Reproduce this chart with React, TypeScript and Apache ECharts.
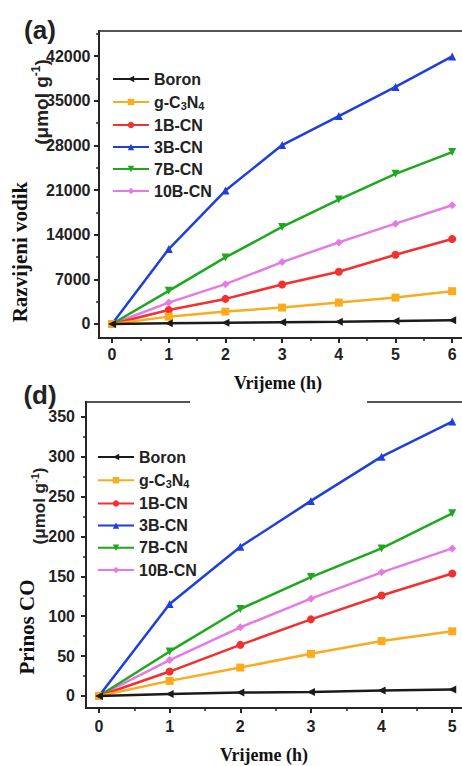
import { useEffect, useRef } from 'react';
import * as echarts from 'echarts';

// ---------- data ----------
const seriesNames = ['Boron', 'g-C3N4', '1B-CN', '3B-CN', '7B-CN', '10B-CN'];

// (a) hydrogen evolution, µmol g-1 vs hours
const h2Hours = [0, 1, 2, 3, 4, 5, 6];
const boronH2 = [0, 100, 180, 270, 350, 450, 580];
const gcnH2 = [0, 1150, 1940, 2570, 3350, 4140, 5140];
const b1H2 = [0, 2200, 3930, 6190, 8180, 10850, 13320];
const b3H2 = [0, 11750, 20920, 28050, 32600, 37170, 41950];
const b7H2 = [0, 5190, 10430, 15210, 19500, 23540, 26950];
const b10H2 = [0, 3350, 6240, 9700, 12790, 15730, 18610];

// (d) CO yield, µmol g-1 vs hours
const coHours = [0, 1, 2, 3, 4, 5];
const boronCO = [0, 2.5, 4.2, 5, 6.7, 8];
const gcnCO = [0, 18.9, 35.6, 52.8, 68.8, 81];
const b1CO = [0, 30.6, 64, 96, 126, 153.5];
const b3CO = [0, 115.3, 187, 244.5, 300, 344];
const b7CO = [0, 55.8, 109, 149, 185, 229];
const b10CO = [0, 45, 86, 122, 155, 185];

// tick labels
const h2YTicks = [0, 7000, 14000, 21000, 28000, 35000, 42000];
const h2YMinor = [3500, 10500, 17500, 24500, 31500, 38500, 45500];
const h2XTicks = [0, 1, 2, 3, 4, 5, 6];
const h2XMinor = [0.5, 1.5, 2.5, 3.5, 4.5, 5.5];
const coYTicks = [0, 50, 100, 150, 200, 250, 300, 350];
const coYMinor = [25, 75, 125, 175, 225, 275, 325];
const coXTicks = [0, 1, 2, 3, 4, 5];
const coXMinor = [0.5, 1.5, 2.5, 3.5, 4.5];

// ---------- styles ----------
const colors = ['#1b1b1b', '#fbab1e', '#f42f2f', '#1f3fdc', '#1ea81e', '#e57ae5'];
const symbols = ['triangle', 'rect', 'circle', 'triangle', 'triangle', 'diamond'];
const symbolRotates = [90, 0, 0, 0, 180, 0];
const SANS = '"Liberation Sans", Arial, sans-serif';
const SERIF = '"Liberation Serif", "Times New Roman", serif';
const AX = '#262626';

const h2Data = [boronH2, gcnH2, b1H2, b3H2, b7H2, b10H2];
const coData = [boronCO, gcnCO, b1CO, b3CO, b7CO, b10CO];

function mainAxis(gridIndex: number, min: number, max: number, ticks: number[], margin: number, position: string) {
  return {
    type: 'value', gridIndex, min, max, position,
    axisLine: { show: true, onZero: false, lineStyle: { color: AX, width: 2 } },
    axisTick: { show: true, length: 5, customValues: ticks, lineStyle: { color: AX, width: 2 } },
    axisLabel: {
      customValues: ticks, margin, fontSize: 16, fontWeight: 'bold', fontFamily: SANS, color: '#222',
      formatter: (v: number) => String(v),
    },
    splitLine: { show: false },
  };
}
function minorAxis(gridIndex: number, min: number, max: number, vals: number[], position: string) {
  return {
    type: 'value', gridIndex, min, max, position,
    axisLine: { show: false, onZero: false },
    axisTick: { show: true, length: 3, customValues: vals, lineStyle: { color: AX, width: 1.5 } },
    axisLabel: { show: false },
    splitLine: { show: false },
  };
}

function makeSeries(hours: number[], values: number[][], axisIndex: number) {
  return seriesNames.map((name, i) => ({
    type: 'line', name, xAxisIndex: axisIndex, yAxisIndex: axisIndex,
    data: hours.map((h, k) => [h, values[i][k]]),
    symbol: symbols[i], symbolRotate: symbolRotates[i], symbolSize: 8,
    lineStyle: { width: 2.5, color: colors[i] },
    itemStyle: { color: colors[i] },
    z: 3 + (5 - i),
  }));
}

const legendBase = {
  orient: 'vertical', itemWidth: 36, itemHeight: 8, data: seriesNames,
  formatter: (n: string) => (n === 'g-C3N4' ? 'g-C{s|3}N{s|4}' : n),
  textStyle: {
    fontSize: 16, fontWeight: 'bold', fontFamily: SANS, color: '#222', lineHeight: 14,
    rich: { s: { fontSize: 11, fontWeight: 'bold', fontFamily: SANS, color: '#222', lineHeight: 14, padding: [7, 0, 0, 0] } },
  },
};

const unitRich = (size: number) => ({
  u: { fontSize: size, fontWeight: 'bold', fontFamily: SANS, fill: '#222' },
  s: { fontSize: Math.round(size * 0.65), fontWeight: 'bold', fontFamily: SANS, fill: '#222', padding: [0, 0, Math.round(size * 0.5), 0] },
});

const option = {
  animation: false,
  backgroundColor: '#fff',
  grid: [
    { left: 99, top: 31, right: -10, bottom: 428, show: true, borderColor: '#555', borderWidth: 2, containLabel: false, outerBoundsMode: 'none' },
    { left: 86, top: 402, right: -10, bottom: 58, show: true, borderColor: '#555', borderWidth: 2, containLabel: false, outerBoundsMode: 'none' },
  ],
  xAxis: [
    mainAxis(0, -0.23, 6.35, h2XTicks, 8.5, 'bottom'),
    mainAxis(1, -0.184, 5.28, coXTicks, 10.5, 'bottom'),
    minorAxis(0, -0.23, 6.35, h2XMinor, 'bottom'),
    minorAxis(1, -0.184, 5.28, coXMinor, 'bottom'),
  ],
  yAxis: [
    mainAxis(0, -2200, 45930, h2YTicks, 8.5, 'left'),
    mainAxis(1, -15.1, 368.5, coYTicks, 11, 'left'),
    minorAxis(0, -2200, 45930, h2YMinor, 'left'),
    minorAxis(1, -15.1, 368.5, coYMinor, 'left'),
  ],
  legend: [
    { ...legendBase, left: 107, top: 66, itemGap: 6 },
    { ...legendBase, left: 92, top: 444, itemGap: 6.2 },
  ],
  series: [...makeSeries(h2Hours, h2Data, 0), ...makeSeries(coHours, coData, 1)],
  graphic: [
    { type: 'text', x: 40, y: 30, style: { text: '(a)', font: `bold 26px ${SANS}`, fill: '#222', align: 'center', verticalAlign: 'middle' } },
    { type: 'text', x: 40, y: 395, style: { text: '(d)', font: `bold 26px ${SANS}`, fill: '#222', align: 'center', verticalAlign: 'middle' } },
    // top axis titles
    { type: 'text', x: 41, y: 102, rotation: Math.PI / 2, style: { text: '{u|(μmol g}{s|-1}{u|)}', rich: unitRich(19), align: 'center', verticalAlign: 'middle' } },
    { type: 'text', x: 20, y: 252, rotation: Math.PI / 2, style: { text: 'Razvijeni vodik', font: `bold 21px ${SERIF}`, fill: '#111', align: 'center', verticalAlign: 'middle' } },
    { type: 'rect', shape: { x: 190, y: 372, width: 177, height: 36 }, style: { fill: '#fff' }, z: 50 },
    { type: 'text', x: 278, y: 383, z: 51, style: { text: 'Vrijeme (h)', font: `bold 18px ${SERIF}`, fill: '#111', align: 'center', verticalAlign: 'middle' } },
    // bottom axis titles
    { type: 'text', x: 39, y: 506, rotation: Math.PI / 2, style: { text: '{u|(μmol g}{s|-1}{u|)}', rich: unitRich(17), align: 'center', verticalAlign: 'middle' } },
    { type: 'text', x: 27, y: 627, rotation: Math.PI / 2, style: { text: 'Prinos CO', font: `bold 21px ${SERIF}`, fill: '#111', align: 'center', verticalAlign: 'middle' } },
    { type: 'text', x: 264, y: 755, style: { text: 'Vrijeme (h)', font: `bold 18px ${SERIF}`, fill: '#111', align: 'center', verticalAlign: 'middle' } },
  ],
};

export default function App() {
  const ref = useRef<HTMLDivElement>(null);
  useEffect(() => {
    const chart = echarts.init(ref.current!, null, { renderer: 'svg' });
    chart.setOption(option as any);
    return () => chart.dispose();
  }, []);
  return <div ref={ref} style={{ position: 'fixed', left: 0, top: 0, width: 462, height: 766, background: '#fff' }} />;
}
